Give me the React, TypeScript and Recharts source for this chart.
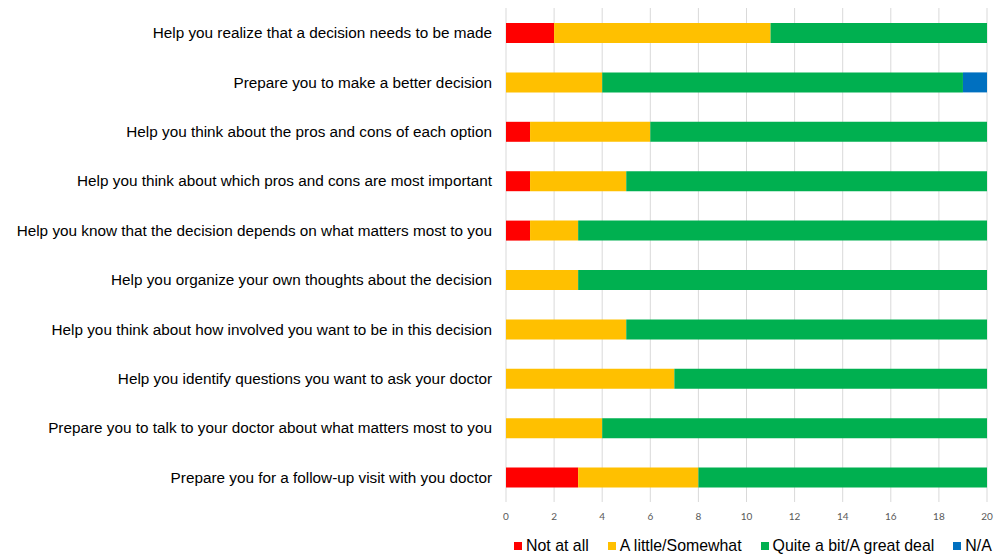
import { BarChart, Bar, XAxis, YAxis, CartesianGrid, Legend } from "recharts"

const items = [
  "Help you realize that a decision needs to be made",
  "Prepare you to make a better decision",
  "Help you think about the pros and cons of each option",
  "Help you think about which pros and cons are most important",
  "Help you know that the decision depends on what matters most to you",
  "Help you organize your own thoughts about the decision",
  "Help you think about how involved you want to be in this decision",
  "Help you identify questions you want to ask your doctor",
  "Prepare you to talk to your doctor about what matters most to you",
  "Prepare you for a follow-up visit with you doctor",
]

const notAtAll = [2, 0, 1, 1, 1, 0, 0, 0, 0, 3]
const aLittle = [9, 4, 5, 4, 2, 3, 5, 7, 4, 5]
const quiteABit = [9, 15, 14, 15, 17, 17, 15, 13, 16, 12]
const notApplicable = [0, 1, 0, 0, 0, 0, 0, 0, 0, 0]

const xTicks = [0, 2, 4, 6, 8, 10, 12, 14, 16, 18, 20]

const series = [
  { key: "notAtAll", name: "Not at all", color: "#FF0000" },
  { key: "aLittle", name: "A little/Somewhat", color: "#FFC000" },
  { key: "quiteABit", name: "Quite a bit/A great deal", color: "#00B050" },
  { key: "na", name: "N/A", color: "#0070C0" },
]

const data = items.map((item, i) => ({
  item,
  notAtAll: notAtAll[i],
  aLittle: aLittle[i],
  quiteABit: quiteABit[i],
  na: notApplicable[i],
}))

const font = "Liberation Sans"

function LegendRow() {
  return (
    <div
      style={{
        height: 30,
        display: "flex",
        alignItems: "center",
        paddingTop: 14,
        boxSizing: "border-box",
        marginLeft: 514,
        fontFamily: font,
        fontSize: 15.9,
        color: "#000",
        whiteSpace: "nowrap",
      }}
    >
      {series.map((s) => (
        <span key={s.key} style={{ display: "flex", alignItems: "center", marginRight: 19 }}>
          <span style={{ width: 8, height: 8, background: s.color, marginRight: 4, display: "inline-block" }} />
          {s.name}
        </span>
      ))}
    </div>
  )
}

export default function App() {
  return (
    <div style={{ position: "absolute", left: 0, top: 0, background: "#fff" }}>
      <BarChart
        width={1000}
        height={554}
        data={data}
        layout="vertical"
        margin={{ top: 8, right: 13, left: 0, bottom: 0 }}
        barSize={20}
      >
        <CartesianGrid horizontal={false} stroke="#D9D9D9" />
        <XAxis
          type="number"
          domain={[0, 20]}
          ticks={xTicks}
          axisLine={false}
          tickLine={false}
          tickSize={0}
          tickMargin={11}
          height={22}
          interval={0}
          tick={{ fontSize: 10, fill: "#595959", fontFamily: "Lato" }}
        />
        <YAxis
          type="category"
          dataKey="item"
          width={506}
          axisLine={false}
          tickLine={false}
          tickSize={0}
          tickMargin={14}
          interval={0}
          tick={{ fontSize: 15.3, fill: "#000", fontFamily: font }}
        />
        <Legend verticalAlign="bottom" content={() => <LegendRow />} />
        {series.map((s) => (
          <Bar key={s.key} dataKey={s.key} name={s.name} stackId="a" fill={s.color} isAnimationActive={false} />
        ))}
      </BarChart>
    </div>
  )
}
